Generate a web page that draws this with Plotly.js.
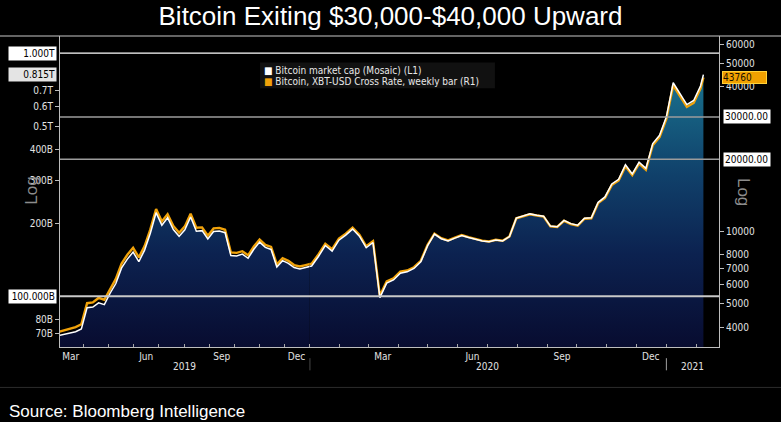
<!DOCTYPE html>
<html>
<head>
<meta charset="utf-8">
<script src="https://cdn.plot.ly/plotly-3.0.1.min.js"></script>
<style>
  html, body { margin:0; padding:0; background:#000; }
  #chart { width:781px; height:422px; }
</style>
</head>
<body>
<div id="chart"></div>
<script>
// ---------- DATA ----------
const weekDates = [
  '2019-03-01','2019-03-08','2019-03-15','2019-03-22','2019-03-29',
  '2019-04-05','2019-04-12','2019-04-19','2019-04-26',
  '2019-05-03','2019-05-10','2019-05-17','2019-05-24','2019-05-31',
  '2019-06-07','2019-06-14','2019-06-21','2019-06-28',
  '2019-07-05','2019-07-12','2019-07-19','2019-07-26',
  '2019-08-02','2019-08-09','2019-08-16','2019-08-23','2019-08-30',
  '2019-09-06','2019-09-13','2019-09-20','2019-09-27',
  '2019-10-04','2019-10-11','2019-10-18','2019-10-25',
  '2019-11-01','2019-11-08','2019-11-15','2019-11-22','2019-11-29',
  '2019-12-06','2019-12-13','2019-12-20','2019-12-27',
  '2020-01-03','2020-01-10','2020-01-17','2020-01-24','2020-01-31',
  '2020-02-07','2020-02-14','2020-02-21','2020-02-28',
  '2020-03-06','2020-03-13','2020-03-20','2020-03-27',
  '2020-04-03','2020-04-10','2020-04-17','2020-04-24',
  '2020-05-01','2020-05-08','2020-05-15','2020-05-22','2020-05-29',
  '2020-06-05','2020-06-12','2020-06-19','2020-06-26',
  '2020-07-03','2020-07-10','2020-07-17','2020-07-24','2020-07-31',
  '2020-08-07','2020-08-14','2020-08-21','2020-08-28',
  '2020-09-04','2020-09-11','2020-09-18','2020-09-25',
  '2020-10-02','2020-10-09','2020-10-16','2020-10-23','2020-10-30',
  '2020-11-06','2020-11-13','2020-11-20','2020-11-27',
  '2020-12-04','2020-12-11','2020-12-18','2020-12-25',
  '2021-01-01','2021-01-08','2021-01-15','2021-01-22','2021-01-29',
  '2021-02-05','2021-02-08'
];

// Bitcoin, XBT-USD cross rate, weekly (R1), USD
const xbtUsd = [
  3820,3870,3930,4000,4110,
  5030,5070,5290,5200,
  5790,6350,7360,8000,8550,
  7800,8700,10200,12400,
  11000,11800,10550,9880,
  10500,11860,10360,10400,9600,
  10300,10350,10170,8190,
  8150,8280,7960,8660,
  9260,8800,8630,7300,7750,
  7550,7250,7150,7250,
  7340,8030,8900,8440,9350,
  9800,10370,9690,8680,
  9120,5400,6200,6380,
  6800,6880,7100,7550,
  8800,9800,9380,9180,9430,
  9660,9470,9300,9160,
  9090,9240,9150,9540,11350,
  11600,11800,11660,11540,
  10500,10440,11080,10740,
  10570,11300,11350,13120,13800,
  15600,16300,18700,17150,
  19150,18050,22850,24700,
  29400,40600,36800,33000,34300,
  39300,43760
];

// Bitcoin market cap (Mosaic) (L1), USD billions
const marketCapB = [
  68.9,69.6,70.6,71.5,73.4,
  89.8,90.3,94.0,92.4,
  102.9,112.8,130.8,142.1,151.9,
  138.7,154.8,181.5,220.6,
  195.9,210.3,188.1,176.4,
  187.5,211.9,185.2,186.1,171.9,
  184.6,185.6,182.5,147.1,
  146.5,149.0,143.3,156.0,
  167.0,158.8,155.8,131.9,140.1,
  136.6,131.2,129.6,131.4,
  133.1,145.7,161.7,153.4,170.1,
  178.4,188.9,176.6,158.3,
  166.4,98.7,113.3,116.7,
  124.4,126.0,130.1,138.5,
  161.5,180.0,172.4,168.7,173.4,
  177.7,174.3,171.3,168.7,
  167.5,170.4,168.8,176.0,209.5,
  214.3,218.1,215.5,213.4,
  194.3,193.2,205.1,198.9,
  195.9,209.4,210.4,243.4,256.0,
  289.5,302.5,347.3,318.5,
  355.6,335.4,424.6,458.9,
  546.5,754.8,684.5,614.1,638.3,
  731.8,814.8
];

// Tick labels
const capTickVals  = [70, 80, 200, 300, 400, 500, 600, 700];
const capTickText  = ['70B','80B','200B','300B','400B','0.5T','0.6T','0.7T'];
const pxTickVals   = [4000, 5000, 6000, 7000, 8000, 10000, 40000, 50000, 60000];
const pxTickText   = ['4000','5000','6000','7000','8000','10000','40000','50000','60000'];
const monthTicks19 = ['2019-03-16','2019-06-16','2019-09-16','2019-12-16'];
const monthTicks20 = ['2020-03-16','2020-06-16','2020-09-16','2020-12-16'];
const monthText    = ['Mar','Jun','Sep','Dec'];
const yearLabels   = ['2019','2020','2021'];
const yearCenters  = ['2019-08-01','2020-07-01','2021-01-28'];
const yearBreaks   = ['2020-01-01','2021-01-01'];

// Reference levels
const capLevelsB   = [1000, 100];        // 1.000T, 100.000B
const pxLevels     = [30000, 20000];

// ---------- BUILD ----------
const FONT = 'DejaVu Sans Condensed, Liberation Sans Narrow, DejaVu Sans, sans-serif';
const GOLD = '#f0a20a';
const axisColor = '#bdbdbd';

// split at year break (piece-wise axis like the source chart)
const k = weekDates.findIndex(d => d >= yearBreaks[0]);
const seg = (arr, a, b) => arr.slice(a, b);
const d19 = seg(weekDates, 0, k + 1), d20 = seg(weekDates, k - 1);
const c19 = seg(marketCapB, 0, k + 1), c20 = seg(marketCapB, k - 1);
const p19 = seg(xbtUsd, 0, k + 1),     p20 = seg(xbtUsd, k - 1);

const capRange = [1.7914, 3.0700];
const pxRange  = [3.5192, 4.8138];
// position of a value on a log axis, as a fraction of the plot height
const capFrac = v => (Math.log10(v) - capRange[0]) / (capRange[1] - capRange[0]);
const pxFrac  = v => (Math.log10(v) - pxRange[0]) / (pxRange[1] - pxRange[0]);

const grad = {
  type: 'vertical',
  start: Math.pow(10, capRange[0]),
  stop: Math.pow(10, capRange[1]),
  colorscale: [[0,'#080c30'],[0.3,'#0c2250'],[0.55,'#10406a'],[0.8,'#176786'],[1,'#1f8099']]
};

function fillTrace(x, y, xa) {
  return {x, y, xaxis: xa, yaxis: 'y', type: 'scatter', mode: 'lines',
    line: {width: 0, color: 'rgba(0,0,0,0)'}, fill: 'tozeroy', fillgradient: grad,
    hoverinfo: 'skip', showlegend: false};
}
function lineTrace(x, y, xa, ya, color, w) {
  return {x, y, xaxis: xa, yaxis: ya, type: 'scatter', mode: 'lines',
    line: {width: w, color: color}, hoverinfo: 'skip', showlegend: false};
}

const traces = [
  fillTrace(d19, c19, 'x'),
  fillTrace(d20, c20, 'x2'),
  lineTrace(d19, p19, 'x', 'y2', GOLD, 2.4),
  lineTrace(d20, p20, 'x2', 'y2', GOLD, 2.4),
  lineTrace(d19, c19, 'x', 'y3', '#ffffff', 1.5),
  lineTrace(d20, c20, 'x2', 'y3', '#ffffff', 1.5)
];

const D = 0.3789;
const tickFont = {family: FONT, size: 10, color: '#e2e2e2'};

const xCommon = {
  type: 'date', anchor: 'y', showline: true, linecolor: axisColor, linewidth: 1,
  showgrid: false, zeroline: false, ticks: '', tickmode: 'array', ticktext: monthText,
  tickfont: tickFont, fixedrange: true,
  minor: {tickmode: 'linear', tick0: '2019-01-01', dtick: 'M1', ticks: 'inside',
          ticklen: 3, tickcolor: '#a8a8a8', showgrid: false}
};

const shapes = [];
capLevelsB.forEach((v, i) => shapes.push({type: 'line', layer: 'above', xref: 'paper', yref: 'paper',
  x0: 0, x1: 1, y0: capFrac(v), y1: capFrac(v),
  line: {color: i === 0 ? '#ffffff' : '#c9c9c9', width: i === 0 ? 1.2 : 2}}));
pxLevels.forEach(v => shapes.push({type: 'line', layer: 'above', xref: 'paper', yref: 'paper',
  x0: 0, x1: 1, y0: pxFrac(v), y1: pxFrac(v),
  line: {color: '#9c9c9c', width: 1.5}}));
// frame line under title, and faint line under the axis block
shapes.push({type: 'line', xref: 'paper', yref: 'paper', x0: -0.1, x1: 1.1, y0: 1, y1: 1,
  line: {color: '#c8c8c8', width: 1}});
shapes.push({type: 'line', xref: 'paper', yref: 'paper', x0: -0.1, x1: 1.1, y0: -0.13, y1: -0.13,
  line: {color: '#2c2c2c', width: 1}});
yearBreaks.forEach(d => shapes.push({type: 'line', xref: 'x2', yref: 'paper', x0: d, x1: d,
  y0: -0.036, y1: -0.075, line: {color: '#a0a0a0', width: 1}}));
// legend background
shapes.push({type: 'rect', layer: 'above', xref: 'paper', yref: 'paper',
  x0: 0.3035, x1: 0.660, y0: 0.832, y1: 0.915, fillcolor: '#111111', line: {width: 0}});

const lastCap = marketCapB[marketCapB.length - 1];
const lastPx = xbtUsd[xbtUsd.length - 1];
const boxFont = {family: FONT, size: 10, color: '#000'};

const annotations = [];
// left level boxes
capLevelsB.forEach(v => annotations.push({xref: 'paper', yref: 'paper', x: 0, y: capFrac(v),
  xanchor: 'right', yanchor: 'middle', xshift: -3, showarrow: false,
  text: v >= 1000 ? (v / 1000).toFixed(3) + 'T' : v.toFixed(3) + 'B',
  bgcolor: '#ffffff', font: boxFont, width: 45, align: 'right', borderpad: 1}));
annotations.push({xref: 'paper', yref: 'paper', x: 0, y: capFrac(lastCap),
  xanchor: 'right', yanchor: 'middle', xshift: -3, showarrow: false,
  text: (lastCap / 1000).toFixed(3) + 'T', bgcolor: '#e4e4e4', font: boxFont,
  width: 45, align: 'right', borderpad: 1});
// right level boxes
pxLevels.forEach(v => annotations.push({xref: 'paper', yref: 'paper', x: 1, y: pxFrac(v),
  xanchor: 'left', yanchor: 'middle', xshift: 4, showarrow: false,
  text: v.toFixed(2), bgcolor: '#ffffff', font: boxFont, width: 44, align: 'left', borderpad: 1}));
annotations.push({xref: 'paper', yref: 'paper', x: 1, y: pxFrac(lastPx),
  xanchor: 'left', yanchor: 'middle', xshift: 3, showarrow: false,
  text: String(lastPx), bgcolor: '#f0a000', bordercolor: '#ffd23a', borderwidth: 1,
  font: {family: FONT, size: 10, color: '#1a1200'}, width: 43, align: 'left', borderpad: 0});
// year labels
yearLabels.forEach((t, i) => annotations.push({xref: i === 0 ? 'x' : 'x2', yref: 'paper',
  x: yearCenters[i], y: -0.0637, yanchor: 'middle', showarrow: false, text: t, font: tickFont}));
// Log labels
annotations.push({xref: 'paper', yref: 'paper', x: -0.0607, y: 0.504, showarrow: false,
  text: 'Log', textangle: -90, font: {family: 'Liberation Sans, Arial, sans-serif', size: 17, color: '#8c8c8c'}});
annotations.push({xref: 'paper', yref: 'paper', x: 1.0546, y: 0.497, showarrow: false,
  text: 'Log', textangle: 90, font: {family: 'Liberation Sans, Arial, sans-serif', size: 17, color: '#8c8c8c'}});
// legend entries
annotations.push({xref: 'paper', yref: 'paper', x: 0.3065, y: 0.8897, xanchor: 'left', yanchor: 'middle',
  showarrow: false, text: '<span style="color:#ffffff">■</span> Bitcoin market cap (Mosaic) (L1)',
  font: {family: FONT, size: 10, color: '#e8e8e8'}});
annotations.push({xref: 'paper', yref: 'paper', x: 0.3065, y: 0.854, xanchor: 'left', yanchor: 'middle',
  showarrow: false, text: '<span style="color:' + GOLD + '">■</span> Bitcoin, XBT-USD Cross Rate, weekly bar (R1)',
  font: {family: FONT, size: 10, color: '#e8e8e8'}});
// source
annotations.push({xref: 'paper', yref: 'paper', x: -0.0804, y: -0.207, xanchor: 'left', yanchor: 'middle',
  showarrow: false, text: 'Source: Bloomberg Intelligence',
  font: {family: 'Liberation Sans, Arial, sans-serif', size: 17, color: '#ffffff'}});

const layout = {
  width: 781, height: 422,
  paper_bgcolor: '#000000', plot_bgcolor: '#000000',
  margin: {l: 60, r: 62, t: 36, b: 75, pad: 0},
  showlegend: false,
  title: {text: 'Bitcoin Exiting $30,000-$40,000 Upward',
    font: {family: 'Liberation Sans, Arial, sans-serif', size: 26, color: '#ffffff'},
    xref: 'container', x: 0.5, xanchor: 'center', yref: 'container', y: 0.962, yanchor: 'middle'},
  xaxis: Object.assign({}, xCommon, {domain: [0, D], range: ['2019-03-03', yearBreaks[0]], tickvals: monthTicks19}),
  xaxis2: Object.assign({}, xCommon, {domain: [D, 1], range: [yearBreaks[0], '2021-02-24'], tickvals: monthTicks20}),
  yaxis: {type: 'log', range: capRange, side: 'left', anchor: 'x', showline: true, linecolor: axisColor,
    ticks: 'outside', ticklen: 4, tickcolor: axisColor, tickmode: 'array', tickvals: capTickVals,
    ticktext: capTickText, tickfont: tickFont, showgrid: false, zeroline: false, fixedrange: true},
  yaxis2: {type: 'log', range: pxRange, side: 'right', overlaying: 'y', anchor: 'x2', showline: true,
    linecolor: axisColor, ticks: 'outside', ticklen: 4, tickcolor: axisColor, tickmode: 'array',
    tickvals: pxTickVals, ticktext: pxTickText, tickfont: tickFont, showgrid: false, zeroline: false, fixedrange: true},
  yaxis3: {type: 'log', range: capRange, overlaying: 'y', anchor: 'x', visible: false, fixedrange: true},
  shapes, annotations
};

Plotly.newPlot('chart', traces, layout, {displayModeBar: false, staticPlot: true});
</script>
</body>
</html>
